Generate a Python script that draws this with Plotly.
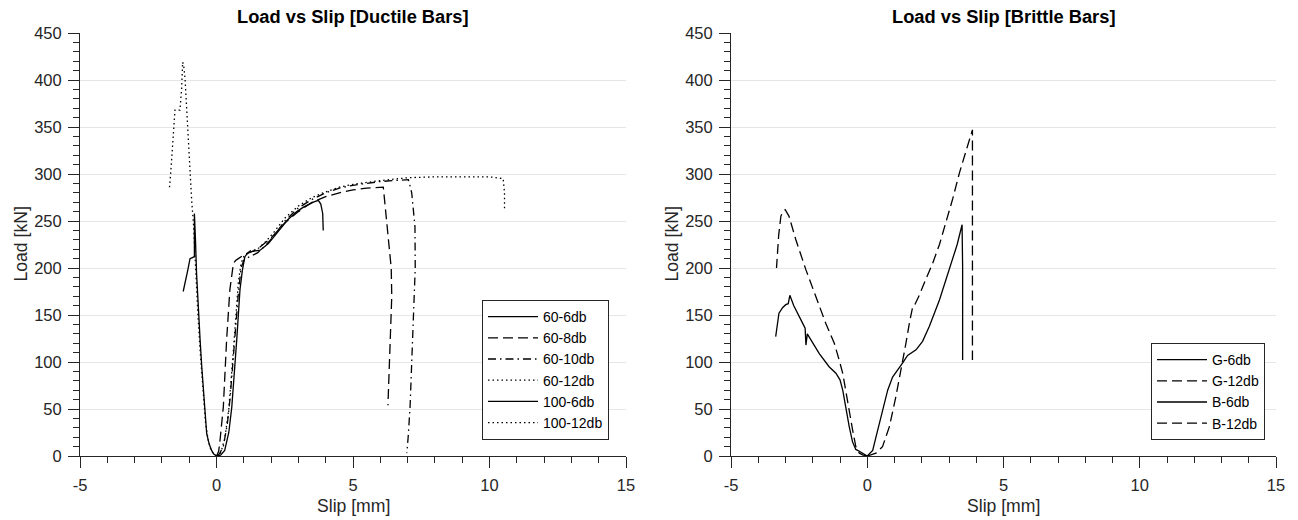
import plotly.graph_objects as go

# ---------------- Data: Ductile bars ----------------
s60_6_x = [0, 0.15, 0.3, 0.45, 0.56, 0.65, 0.74, 0.8, 0.86, 0.95, 1.04, 1.17, 1.4, 1.6, 1.9, 2.33, 2.6, 2.94, 3.2, 3.55, 3.73, 3.82, 3.89, 3.91]
s60_6_y = [0, 1, 6, 25, 52, 85, 123, 150, 177, 198, 212, 217, 218, 219, 226, 242, 251, 260, 265, 270, 272, 268, 258, 240]

s60_8_x = [0, 0.08, 0.13, 0.25, 0.37, 0.49, 0.62, 0.7, 0.8, 0.9, 1.1, 1.5, 2.0, 2.5, 3.0, 3.5, 4.0, 4.5, 5.0, 5.5, 6.11, 6.2, 6.3, 6.4, 6.42, 6.38, 6.33, 6.28]
s60_8_y = [0, 5, 17, 52, 123, 177, 205, 208, 210, 212, 215, 220, 232, 248, 260, 270, 276, 280, 283, 285, 286, 260, 233, 200, 170, 130, 90, 54]

s60_10_x = [0, 0.1, 0.25, 0.4, 0.5, 0.6, 0.7, 0.8, 0.9, 1.0, 1.2, 1.5, 1.8, 2.1, 2.5, 3.0, 3.5, 4.0, 4.5, 5.0, 5.5, 6.0, 6.5, 7.03, 7.15, 7.27, 7.28, 7.21, 7.15, 7.09, 7.02, 6.97]
s60_10_y = [0, 2, 10, 35, 62, 100, 140, 173, 200, 208, 212, 216, 224, 234, 250, 264, 273, 280, 285, 288, 290, 292, 293, 294, 280, 244, 200, 137, 95, 52, 20, 3]

s60_12_x = [0, 0.15, 0.3, 0.45, 0.6, 0.7, 0.8, 0.9, 1.0, 1.2, 1.5, 1.8, 2.1, 2.5, 3.0, 3.5, 4.0, 4.5, 5.0, 6.0, 7.0, 8.0, 9.0, 10.0, 10.5, 10.55, 10.55]
s60_12_y = [0, 3, 18, 50, 105, 150, 185, 205, 212, 218, 220, 228, 238, 253, 266, 275, 281, 286, 289, 293, 296, 297, 297, 297, 295, 280, 263]

s100_6_x = [0, -0.1, -0.18, -0.27, -0.36, -0.42, -0.48, -0.54, -0.6, -0.67, -0.73, -0.77, -0.79, -0.81, -0.81, -0.97, -1.05, -1.13, -1.22]
s100_6_y = [0, 2, 6, 13, 24, 45, 70, 95, 123, 160, 194, 230, 258, 258, 212, 210, 198, 186, 175]

s100_12_x = [0, -0.1, -0.2, -0.3, -0.4, -0.5, -0.6, -0.68, -0.76, -0.84, -0.91, -0.97, -1.03, -1.09, -1.15, -1.2, -1.24, -1.28, -1.34, -1.52, -1.6, -1.68, -1.73]
s100_12_y = [0, 2, 6, 16, 35, 70, 112, 150, 200, 245, 272, 308, 336, 372, 400, 415, 419, 390, 368, 368, 330, 300, 283]

# ---------------- Data: Brittle bars ----------------
g6_x = [0, -0.05, -0.18, -0.29, -0.42, -0.54, -0.66, -0.78, -0.9, -1.0, -1.15, -1.4, -1.76, -1.95, -2.13, -2.2, -2.25, -2.28, -2.35, -2.5, -2.7, -2.84, -2.9, -2.99, -3.1, -3.24, -3.3, -3.36]
g6_y = [0, 1, 3, 5, 7, 15, 31, 52, 70, 81, 88, 95, 109, 118, 127, 130, 118, 136, 140, 148, 160, 171, 162, 161, 158, 152, 140, 127]

g12_x = [0, -0.15, -0.29, -0.42, -0.54, -0.66, -0.78, -0.9, -1.03, -1.21, -1.52, -1.88, -2.25, -2.62, -2.87, -3.01, -3.1, -3.17, -3.25, -3.33]
g12_y = [0, 1, 3, 10, 28, 48, 70, 88, 102, 120, 141, 169, 198, 230, 255, 262, 260, 255, 235, 200]

b6_x = [0, 0.2, 0.32, 0.56, 0.75, 0.93, 1.11, 1.3, 1.48, 1.79, 2.03, 2.28, 2.65, 3.01, 3.3, 3.48, 3.5, 3.5]
b6_y = [0, 6, 20, 49, 70, 84, 91, 99, 107, 113, 122, 138, 166, 198, 225, 246, 200, 102]

b12_x = [0, 0.32, 0.56, 0.81, 1.05, 1.24, 1.42, 1.55, 1.67, 1.73, 1.91, 2.15, 2.4, 2.65, 2.89, 3.14, 3.38, 3.6, 3.86, 3.86]
b12_y = [0, 3, 10, 31, 63, 91, 120, 142, 159, 160, 171, 188, 205, 225, 248, 274, 301, 322, 347, 102]

x_ticks = [-5, 0, 5, 10, 15]
y_ticks = [0, 50, 100, 150, 200, 250, 300, 350, 400, 450]

titles = ["Load vs Slip [Ductile Bars]", "Load vs Slip [Brittle Bars]"]
x_title = "Slip [mm]"
y_title = "Load [kN]"

# ---------------- Styles ----------------
SOLID = "solid"
DASH = "10px,5px"
DOT = "1.5px,3px"
DASHDOT = "8px,4px,1.5px,4px"
LW = 1.3
INK = "#262626"
FONT = "Liberation Sans, Arial, sans-serif"
TICK_FS = 16.5
LABEL_FS = 17.6
TITLE_FS = 18.3
LEG_FS = 14

fig = go.Figure()

left = [
    ("60-6db", s60_6_x, s60_6_y, SOLID),
    ("60-8db", s60_8_x, s60_8_y, DASH),
    ("60-10db", s60_10_x, s60_10_y, DASHDOT),
    ("60-12db", s60_12_x, s60_12_y, DOT),
    ("100-6db", s100_6_x, s100_6_y, SOLID),
    ("100-12db", s100_12_x, s100_12_y, DOT),
]
right = [
    ("G-6db", g6_x, g6_y, SOLID),
    ("G-12db", g12_x, g12_y, DASH),
    ("B-6db", b6_x, b6_y, SOLID),
    ("B-12db", b12_x, b12_y, DASH),
]

for name, xs, ys, dash in left:
    fig.add_trace(go.Scatter(x=xs, y=ys, mode="lines", name=name,
                             line=dict(color="black", width=LW, dash=dash),
                             xaxis="x", yaxis="y", legend="legend"))
for name, xs, ys, dash in right:
    fig.add_trace(go.Scatter(x=xs, y=ys, mode="lines", name=name,
                             line=dict(color="black", width=LW, dash=dash),
                             xaxis="x2", yaxis="y2", legend="legend2"))

W, H = 1298, 520
ML, MR, MT, MB = 80, 22, 33, 64
PW = W - ML - MR
PH = H - MT - MB
d1 = [0, (626 - ML) / PW]
d2 = [(731 - ML) / PW, 1.0]


def xaxis(domain, anchor):
    return dict(domain=domain, anchor=anchor, range=[-5, 15], tickvals=x_ticks,
                ticktext=[str(v) for v in x_ticks],
                showline=True, linecolor=INK, linewidth=1, mirror=False,
                ticks="outside", ticklen=11, tickwidth=1, tickcolor=INK,
                ticklabelstandoff=3,
                minor=dict(dtick=1, ticks="outside", ticklen=6, tickwidth=1, tickcolor=INK, showgrid=False),
                showgrid=False, zeroline=False, automargin=False,
                tickfont=dict(family=FONT, size=TICK_FS, color=INK))


def yaxis(anchor):
    return dict(domain=[0, 1], anchor=anchor, range=[0, 450], tickvals=y_ticks,
                ticktext=[str(v) for v in y_ticks],
                showline=True, linecolor=INK, linewidth=1, mirror=False,
                ticks="outside", ticklen=11, tickwidth=1, tickcolor=INK,
                ticklabelstandoff=3,
                minor=dict(dtick=10, ticks="outside", ticklen=6, tickwidth=1, tickcolor=INK, showgrid=False),
                showgrid=True, gridcolor="#e6e6e6", gridwidth=1, zeroline=False, automargin=False,
                tickfont=dict(family=FONT, size=TICK_FS, color=INK))


legend_common = dict(bgcolor="white", bordercolor=INK, borderwidth=1,
                     font=dict(family=FONT, size=LEG_FS, color="black"),
                     xanchor="right", yanchor="bottom", tracegroupgap=0,
                     itemwidth=50, yref="paper", xref="paper")

annotations = []
for dom, t in zip([d1, d2], titles):
    cx = (dom[0] + dom[1]) / 2
    annotations.append(dict(text="<b>" + t + "</b>", x=cx, y=1, xref="paper", yref="paper",
                            xanchor="center", yanchor="middle", yshift=16.5, showarrow=False,
                            font=dict(family=FONT, size=TITLE_FS, color="black")))
    annotations.append(dict(text=x_title, x=cx, y=0, xref="paper", yref="paper",
                            xanchor="center", yanchor="middle", yshift=-50, showarrow=False,
                            font=dict(family=FONT, size=LABEL_FS, color=INK)))
    annotations.append(dict(text=y_title, x=dom[0], y=0.5, xref="paper", yref="paper",
                            xanchor="center", yanchor="middle", xshift=-60, textangle=-90, showarrow=False,
                            font=dict(family=FONT, size=LABEL_FS, color=INK)))

fig.update_layout(
    width=W, height=H,
    margin=dict(l=ML, r=MR, t=MT, b=MB, autoexpand=False),
    paper_bgcolor="white", plot_bgcolor="white",
    xaxis=xaxis(d1, "y"), yaxis=yaxis("x"),
    xaxis2=xaxis(d2, "y2"), yaxis2=yaxis("x2"),
    legend=dict(x=(609 - ML) / PW, y=(456 - 440) / PH, **legend_common),
    legend2=dict(x=1 - (1276 - 1265) / PW, y=(456 - 440) / PH, **legend_common),
    annotations=annotations,
    showlegend=True,
)

fig.write_html("out.html")
